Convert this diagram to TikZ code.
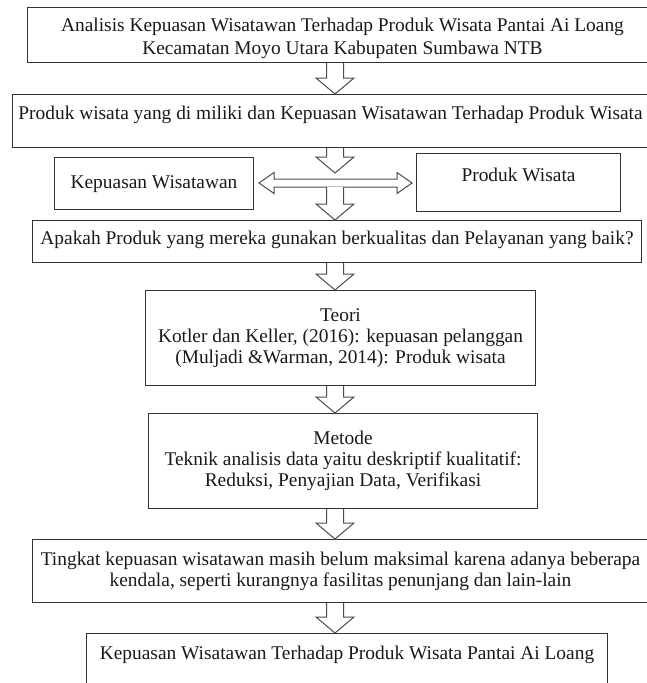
\documentclass[tikz,border=0pt]{standalone}
\usepackage{fontspec}
\setmainfont{Liberation Serif}
\usetikzlibrary{calc}

\tikzset{
  kotak/.style={draw=black!80, line width=1pt, inner sep=0pt, anchor=north west,
    align=center, text=black!90, font=\fontsize{19.4}{21}\selectfont},
  panah/.style={draw=black!70, line width=1pt, fill=white, line join=miter},
}

% panah blok berongga ke bawah
\newcommand{\panahbawah}[2]{%
  \draw[panah] let \p1=(#1), \p2=(#2) in
    (\x1-8.5pt,\y1) -- (\x1-8.5pt,\y2+16pt) -- (\x1-19pt,\y2+16pt) -- (\x1,\y2)
    -- (\x1+19pt,\y2+16pt) -- (\x1+8.5pt,\y2+16pt) -- (\x1+8.5pt,\y1);}
% panah blok berongga dua arah
\newcommand{\panahganda}[2]{%
  \draw[panah] let \p1=(#1), \p2=(#2) in
    (\x1,\y1) -- (\x1+15pt,\y1+10.5pt) -- (\x1+15pt,\y1+4pt) -- (\x2-15pt,\y1+4pt)
    -- (\x2-15pt,\y1+10.5pt) -- (\x2,\y1) -- (\x2-15pt,\y1-10.5pt) -- (\x2-15pt,\y1-4pt)
    -- (\x1+15pt,\y1-4pt) -- (\x1+15pt,\y1-10.5pt) -- cycle;}

\begin{document}
\begin{tikzpicture}[x=1pt,y=-1pt]
	\useasboundingbox (0,0) rectangle (647,683);
	\coordinate (kol) at (335,0);
	\coordinate (tengah) at (335,183);

	\node[kotak, minimum width=630pt, minimum height=55pt, font=\fontsize{19.4}{23}\selectfont] (judul) at (27,7)
		{\rule{0pt}{20pt}Analisis Kepuasan Wisatawan Terhadap Produk Wisata Pantai Ai Loang\\Kecamatan Moyo Utara Kabupaten Sumbawa NTB};
	\node[kotak, minimum width=636pt, minimum height=53pt, text height=14pt, text depth=17pt] (fokus) at (12,94)
		{Produk wisata yang di miliki dan Kepuasan Wisatawan Terhadap Produk Wisata};
	\node[kotak, minimum width=199pt, minimum height=52pt, text height=14pt, text depth=4pt] (kepuasan) at (54,157)
		{Kepuasan Wisatawan};
	\node[kotak, minimum width=204pt, minimum height=58pt, text height=14pt, text depth=16pt] (produk) at (416,153)
		{Produk Wisata};
	\node[kotak, minimum width=609pt, minimum height=42pt, text height=14pt, text depth=8pt] (tanya) at (32,220)
		{Apakah Produk yang mereka gunakan berkualitas dan Pelayanan yang baik?};
	\node[kotak, minimum width=390pt, minimum height=95pt] (teori) at (145,290)
		{Teori\\Kotler dan Keller, (2016): kepuasan pelanggan\\(Muljadi \&Warman, 2014): Produk wisata};
	\node[kotak, minimum width=389pt, minimum height=95pt] (metode) at (148,413)
		{Metode\\Teknik analisis data yaitu deskriptif kualitatif:\\Reduksi, Penyajian Data, Verifikasi};
	\node[kotak, minimum width=616pt, minimum height=63pt] (hasil) at (32,539)
		{Tingkat kepuasan wisatawan masih belum maksimal karena adanya beberapa\\kendala, seperti kurangnya fasilitas penunjang dan lain-lain};
	\node[kotak, minimum width=521pt, minimum height=67pt, text height=14pt, text depth=29pt] (simpulan) at (86,633)
		{Kepuasan Wisatawan Terhadap Produk Wisata Pantai Ai Loang};

	% panah antar kotak
	\panahbawah{judul.south -| kol}{fokus.north -| kol}
	\panahbawah{fokus.south -| kol}{$(tengah)+(0,-10)$}
	\panahganda{$(kepuasan.east |- tengah)+(5,0)$}{$(produk.west |- tengah)+(-4,0)$}
	\panahbawah{$(tengah)+(0,4)$}{tanya.north -| kol}
	\panahbawah{tanya.south -| kol}{teori.north -| kol}
	\panahbawah{teori.south -| kol}{metode.north -| kol}
	\panahbawah{metode.south -| kol}{hasil.north -| kol}
	\panahbawah{hasil.south -| kol}{simpulan.north -| kol}
\end{tikzpicture}
\end{document}
